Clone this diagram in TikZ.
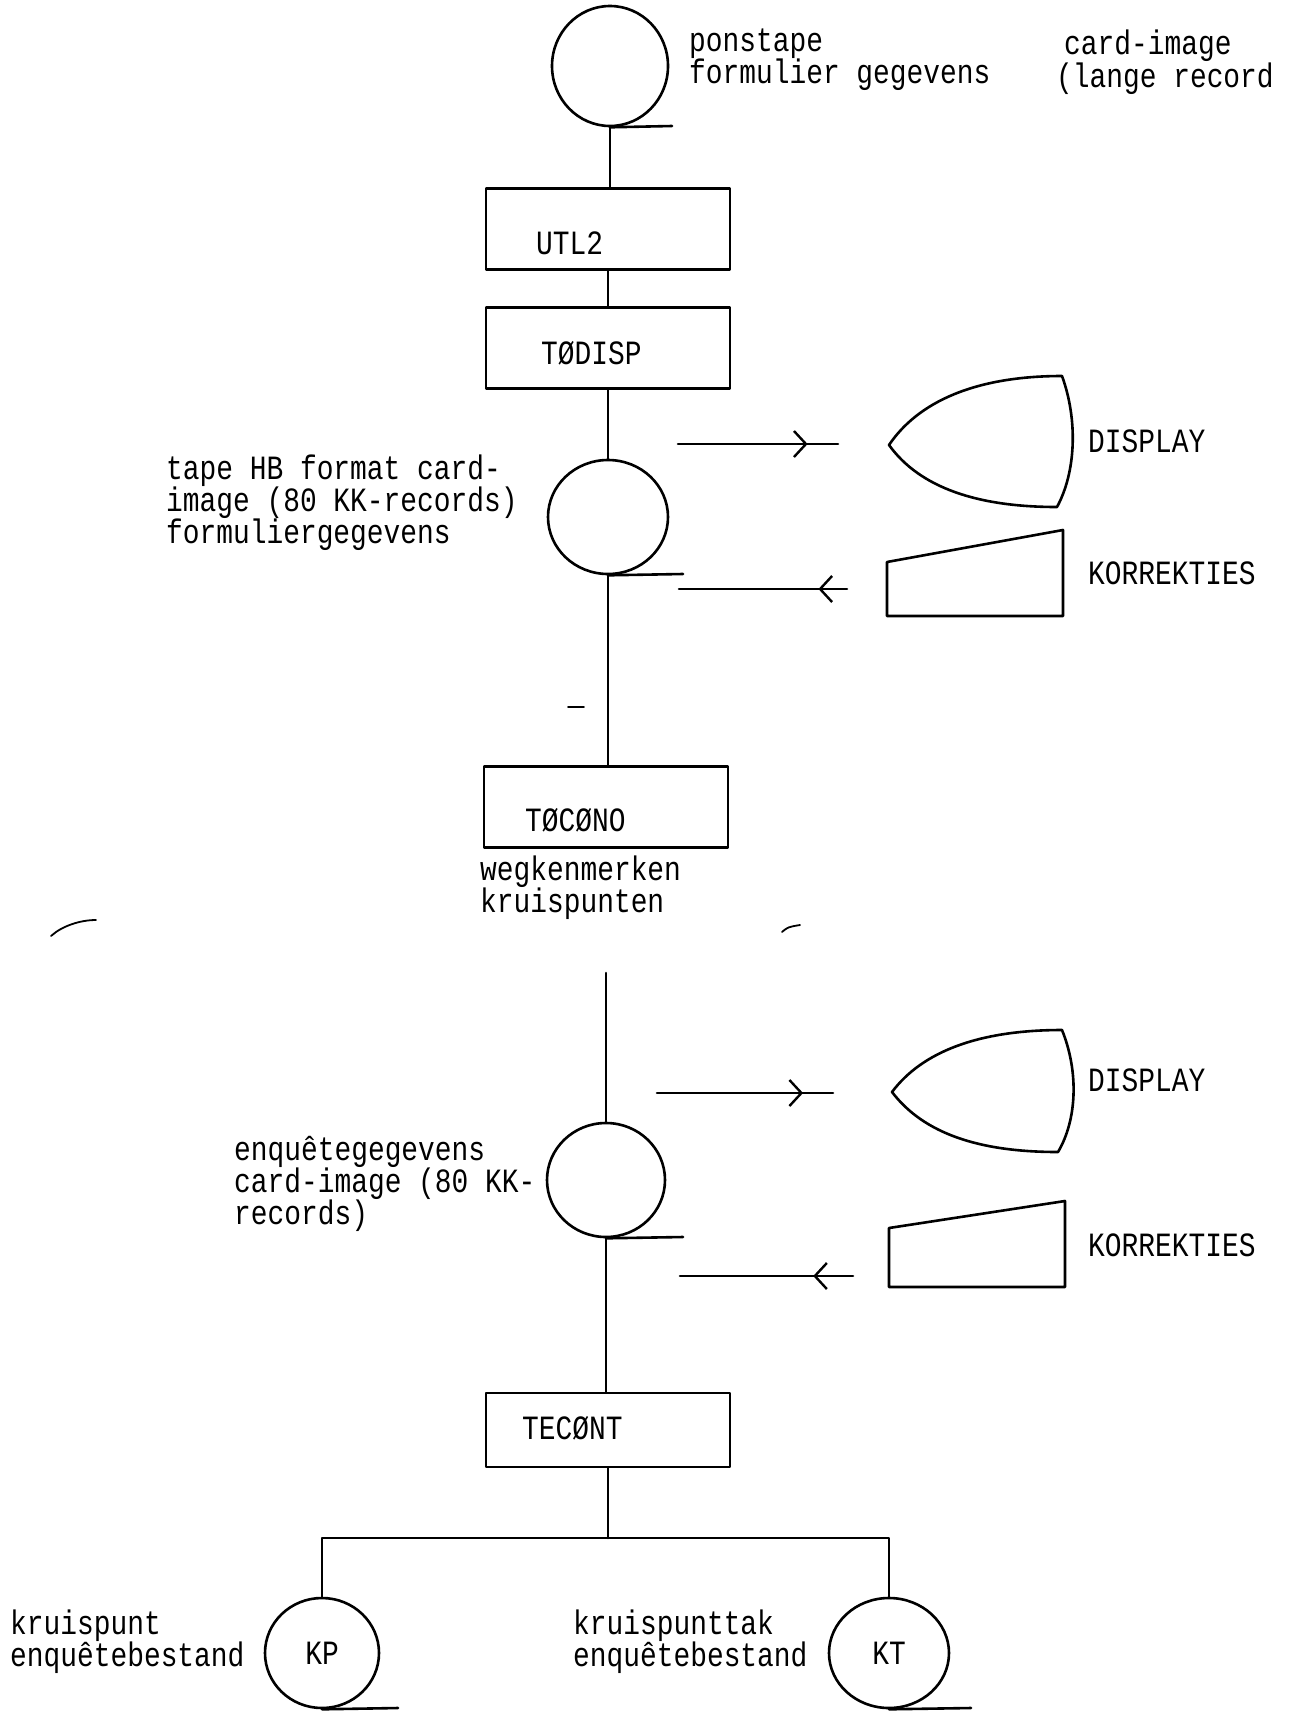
\documentclass[tikz,border=0pt]{standalone}
\usepackage{fontspec}
\newfontfamily\tw[FakeStretch=0.82]{Liberation Mono}
\usetikzlibrary{shapes.geometric,arrows.meta,decorations.markings}
\begin{document}
\begin{tikzpicture}[x=1pt,y=-1pt,
  ln/.style={line width=2.6pt, line cap=round, line join=round},
  txt/.style={font=\tw\fontsize{34}{32}\selectfont, inner sep=0pt, anchor=west, align=left},
  proc/.style={draw, ln, rectangle, minimum width=244pt, minimum height=81pt, inner sep=0pt},
  store/.style={draw, ln, ellipse, inner sep=0pt, font=\tw\fontsize{34}{32}\selectfont},
  midarrow/.style={decoration={markings, mark=at position #1 with {\arrow[line width=2.4pt]{Straight Barb[length=12pt,width=26pt]}}}, postaction={decorate}},
  noise/.style={line width=1.8pt, line cap=round}
]
\fill[white] (0,0) rectangle (1297,1711);
\useasboundingbox (0,0) rectangle (1297,1711);

% ---- top part
\node[store, minimum width=116pt, minimum height=120pt] (c1) at (610,66) {};
\coordinate (c1t) at (672,126);
\draw[ln] (c1.south) -- (c1t);
\node[txt] (tpon) at (689,60) {ponstape\\formulier gegevens};
\node[txt] (tcard1) at (1064,46) {card-image};
\node[txt] (tcard2) at (1056,79) {(lange record};

\node[proc] (utl) at (608,229) {};
\node[txt] (tutl) at (536,243) {UTL2};
\node[proc] (tod) at (608,348) {};
\node[txt] (ttod) at (541,353) {TØDISP};

\draw[ln] (c1.south) -- (c1.south |- utl.north);
\draw[ln] (utl.south) -- (tod.north);

% ---- second store
\node[store, minimum width=120pt, minimum height=114pt] (c2) at (608,517) {};
\draw[ln] (tod.south) -- (c2.north);
\coordinate (c2t) at (683,574);
\draw[ln] (c2.south) -- (c2t);
\node[txt] (ttape) at (166,503) {tape HB format card-\\image (80 KK-records)\\formuliergegevens};

\coordinate (a1s) at (678,444);
\coordinate (a1e) at (838,444);
\draw[ln, midarrow=0.81] (a1s) -- (a1e);
\coordinate (a2s) at (847,589);
\coordinate (a2e) at (679,589);
\draw[ln, midarrow=0.17] (a2s) -- (a2e);

\draw[ln] (889,445) .. controls (918,402) and (975,376) .. (1062,376)
  .. controls (1078,420) and (1076,472) .. (1057,507)
  .. controls (978,507) and (920,488) .. cycle;
\node[txt] (tdisp1) at (1088,441) {DISPLAY};
\draw[ln] (887,562) -- (1063,530) -- (1063,616) -- (887,616) -- cycle;
\node[txt] (tkor1) at (1088,573) {KORREKTIES};

\node[proc] (toc) at (606,807) {};
\node[txt] (ttoc) at (525,820) {TØCØNO};
\draw[ln] (c2.south) -- (c2.south |- toc.north);
\node[txt] (tweg) at (480,888) {wegkenmerken\\kruispunten};

% stray marks
\draw[noise] (51,936) .. controls (62,926) and (80,920) .. (96,920);
\draw[noise] (782,932) .. controls (788,927) .. (800,925);
\draw[noise] (568,707) -- (584,707);

% ---- third store
\coordinate (l3) at (606,973);
\node[store, minimum width=118pt, minimum height=114pt] (c3) at (606,1180) {};
\draw[ln] (l3) -- (c3.north);
\coordinate (c3t) at (683,1237);
\draw[ln] (c3.south) -- (c3t);
\node[txt] (tenq) at (234,1184) {enquêtegegevens\\card-image (80 KK-\\records)};

\coordinate (a3s) at (657,1093);
\coordinate (a3e) at (833,1093);
\draw[ln, midarrow=0.83] (a3s) -- (a3e);
\coordinate (a4s) at (853,1276);
\coordinate (a4e) at (680,1276);
\draw[ln, midarrow=0.23] (a4s) -- (a4e);

\draw[ln] (892,1092) .. controls (922,1052) and (978,1030) .. (1062,1030)
  .. controls (1079,1072) and (1077,1120) .. (1058,1152)
  .. controls (980,1152) and (924,1134) .. cycle;
\node[txt] (tdisp2) at (1088,1080) {DISPLAY};
\draw[ln] (889,1228) -- (1065,1201) -- (1065,1287) -- (889,1287) -- cycle;
\node[txt] (tkor2) at (1088,1245) {KORREKTIES};

\node[proc, minimum height=74pt] (tec) at (608,1430) {};
\node[txt] (ttec) at (522,1428) {TECØNT};
\draw[ln] (c3.south) -- (c3.south |- tec.north);

% ---- branch
\node[store, minimum width=114pt, minimum height=110pt] (kp) at (322,1653) {KP};
\node[store, minimum width=120pt, minimum height=110pt] (kt) at (889,1653) {KT};
\coordinate (br) at (608,1538);
\draw[ln] (tec.south) -- (br);
\draw[ln] (kp.north) -- (kp.north |- br) -- (kt.north |- br) -- (kt.north);
\coordinate (kpt) at (398,1708);
\coordinate (ktt) at (971,1708);
\draw[ln] (kp.south) -- (kpt);
\draw[ln] (kt.south) -- (ktt);
\node[txt] (tkp) at (10,1642) {kruispunt\\enquêtebestand};
\node[txt] (tkt) at (573,1642) {kruispunttak\\enquêtebestand};
\end{tikzpicture}
\end{document}
